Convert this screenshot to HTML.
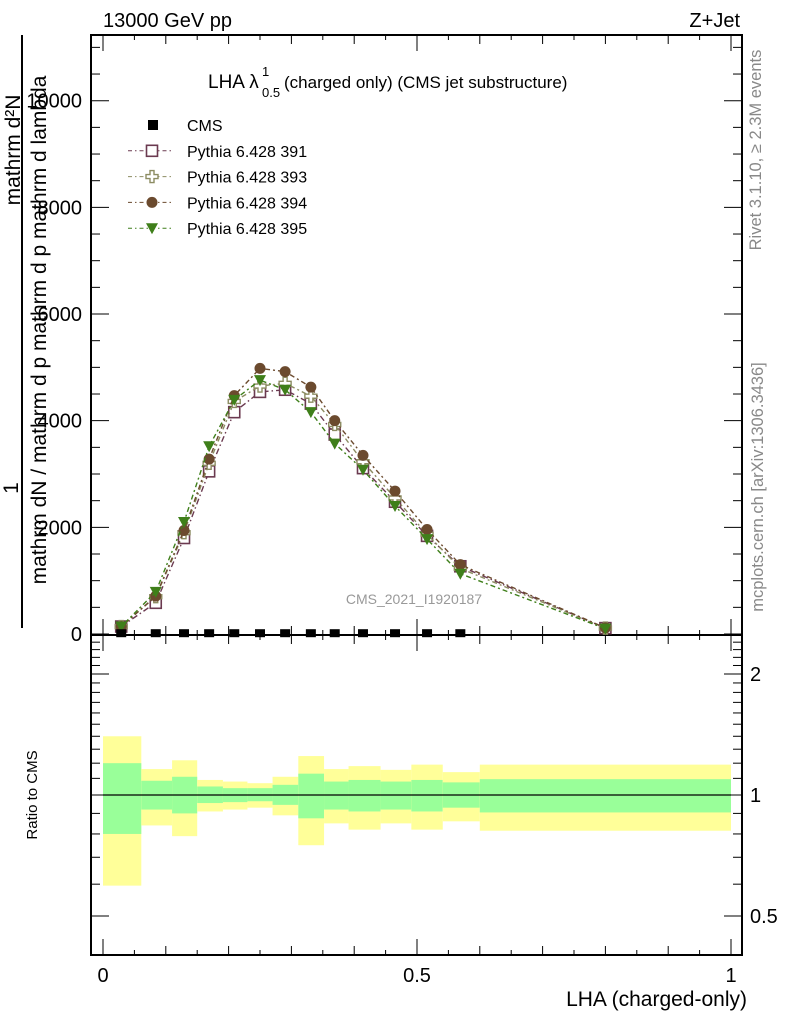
<!DOCTYPE html>
<html><head><meta charset="utf-8"><style>
body{margin:0;background:#fff;}
svg{display:block;font-family:"Liberation Sans",sans-serif;}
</style></head><body>
<svg id="c" width="786" height="1024" xmlns="http://www.w3.org/2000/svg"></svg>
<script>
const xs=[0.029,0.084,0.129,0.169,0.209,0.250,0.290,0.331,0.369,0.414,0.465,0.516,0.569,0.800];
const cmsVals=[15,15,15,15,15,15,15,15,15,15,15,15,15];
const s391=[140,585,1800,3050,4160,4540,4580,4320,3740,3110,2480,1840,1270,110];
const s393=[140,700,1900,3200,4360,4650,4700,4460,3930,3230,2550,1870,1230,110];
const s394=[140,710,1940,3280,4470,4980,4920,4630,4000,3350,2680,1960,1300,115];
const s395=[140,790,2100,3520,4390,4760,4580,4160,3570,3080,2400,1780,1130,100];
const edges=[0,0.061,0.110,0.150,0.191,0.230,0.270,0.311,0.352,0.391,0.442,0.491,0.541,0.600,1.0];
const yelHi=[1.40,1.16,1.22,1.09,1.08,1.07,1.11,1.25,1.16,1.18,1.155,1.19,1.14,1.19];
const yelLo=[0.595,0.84,0.79,0.91,0.92,0.93,0.89,0.75,0.85,0.82,0.85,0.82,0.86,0.815];
const grnHi=[1.20,1.085,1.11,1.05,1.04,1.04,1.06,1.13,1.08,1.09,1.08,1.09,1.075,1.095];
const grnLo=[0.80,0.92,0.90,0.955,0.96,0.965,0.945,0.875,0.92,0.91,0.92,0.91,0.93,0.905];
const yTicks=[0,2000,4000,6000,8000,10000];
const yTickLabels=["0","2000","4000","6000","8000","10000"];

const NS="http://www.w3.org/2000/svg";
const svg=document.getElementById('c');
function mk(t,a,p){const e=document.createElementNS(NS,t);for(const k in a)e.setAttribute(k,a[k]);(p||svg).appendChild(e);return e;}
const L=91,R=742,T=35,MB=635,RB=955;
const X=v=>103+v*628;
const Y=v=>634-v*0.05333;
const YR=v=>795-Math.log2(v)*121;

for(let i=0;i<edges.length-1;i++){
 let r=mk('rect',{x:X(edges[i]),y:YR(yelHi[i]),width:X(edges[i+1])-X(edges[i]),height:YR(yelLo[i])-YR(yelHi[i]),fill:'#ffff99'});
 
 
 let g=mk('rect',{x:X(edges[i]),y:YR(grnHi[i]),width:X(edges[i+1])-X(edges[i]),height:YR(grnLo[i])-YR(grnHi[i]),fill:'#99ff99'});
 
 
}
let ref=mk('line',{x1:X(0),x2:X(1),y1:YR(1),y2:YR(1),stroke:'#000','stroke-width':1.3});



let f1=mk('rect',{x:L,y:T,width:R-L,height:MB-T,fill:'none',stroke:'#000','stroke-width':2});


let f2=mk('rect',{x:L,y:MB,width:R-L,height:RB-MB,fill:'none',stroke:'#000','stroke-width':2});



for(let k=0;k<=20;k++){const v=k*0.05,x=X(v);const len=(k%10==0)?16:(k%2==0?9:5);
 for(const [top,bot] of [[T,MB],[MB,RB]]){
  mk('line',{x1:x,x2:x,y1:bot,y2:bot-len,stroke:'#000','stroke-width':1});
  mk('line',{x1:x,x2:x,y1:top,y2:top+len,stroke:'#000','stroke-width':1});
 }}
for(let v=0;v<=11000;v+=500){const y=Y(v);const len=(v%2000==0)?18:9;
 mk('line',{x1:L,x2:L+len,y1:y,y2:y,stroke:'#000'});mk('line',{x1:R,x2:R-len,y1:y,y2:y,stroke:'#000'});}
yTicks.forEach((v,i)=>{let t=mk('text',{x:82,y:Y(v)+7,'text-anchor':'end','font-size':20});t.textContent=yTickLabels[i];
 
 });
for(let k=4;k<=24;k++){const v=k/10;const y=YR(v);if(y<MB||y>RB)continue;const maj=(k==5||k==10||k==20);const len=maj?18:9;
 mk('line',{x1:L,x2:L+len,y1:y,y2:y,stroke:'#000'});mk('line',{x1:R,x2:R-len,y1:y,y2:y,stroke:'#000'});}
[[2,"2"],[1,"1"],[0.5,"0.5"]].forEach(([v,s])=>{let t=mk('text',{x:750,y:YR(v)+7,'font-size':20});t.textContent=s;
 
 });
[[0,"0"],[0.5,"0.5"],[1,"1"]].forEach(([v,s])=>{let t=mk('text',{x:X(v),y:982,'text-anchor':'middle','font-size':20});t.textContent=s;
 
 });

const series=[[s391,'#6b3a50','sq'],[s393,'#8c8c62','cross'],[s394,'#6b4a2e','circ'],[s395,'#3f7f1a','tri']];
function marker(kind,x,y,c,p){
 if(kind=='sq')return mk('rect',{x:x-5.5,y:y-5.5,width:11,height:11,fill:'#fff',stroke:c,'stroke-width':1.6},p);
 if(kind=='cross')return mk('path',{d:`M${x-2},${y-6}h4v4h4v4h-4v4h-4v-4h-4v-4h4z`,fill:'#fff',stroke:c,'stroke-width':1.4},p);
 if(kind=='circ')return mk('circle',{cx:x,cy:y,r:5.5,fill:c},p);
 return mk('path',{d:`M${x-6},${y-5}L${x+6},${y-5}L${x},${y+6}z`,fill:c},p);
}
series.forEach(([d,c,k],si)=>{
 const g=mk('g',{});
 
 
 mk('polyline',{points:xs.map((x,i)=>X(x)+','+Y(d[i])).join(' '),fill:'none',stroke:c,'stroke-width':1.4,'stroke-dasharray':si==0?'6,3,1.5,3':'2,3,5,3'},g);
 xs.forEach((x,i)=>marker(k,X(x),Y(d[i]),c,g));
});
const cg=mk('g',{});


cmsVals.forEach((v,i)=>mk('rect',{x:X(xs[i])-5,y:Y(v)-4,width:10,height:8,fill:'#000'},cg));

const names=['CMS','Pythia 6.428 391','Pythia 6.428 393','Pythia 6.428 394','Pythia 6.428 395'];
names.forEach((n,i)=>{const y=125+i*25.8;
 const g=mk('g',{});
 
 
 if(i==0)mk('rect',{x:148,y:y-5,width:10,height:10,fill:'#000'},g);
 else{const [d,c,k]=series[i-1];mk('line',{x1:128,x2:173,y1:y,y2:y,stroke:c,'stroke-dasharray':'4,3,1.5,3'},g);marker(k,152,y,c,g);}
 const t=mk('text',{x:187,y:y+6,'font-size':16},g);t.textContent=n;});

function txt(s,a,name){const t=mk('text',a);t.textContent=s;return t;}
txt('13000 GeV pp',{x:103,y:27,'font-size':20},'header-energy');
txt('Z+Jet',{x:740,y:27,'font-size':20,'text-anchor':'end'},'header-process');
txt('LHA λ',{x:208,y:88,'font-size':19},'plot-title');
txt('1',{x:262,y:76,'font-size':13},'plot-title-superscript');
txt('0.5',{x:262,y:97,'font-size':13},'plot-title-subscript');
txt('(charged only) (CMS jet substructure)',{x:284,y:88,'font-size':17},'plot-title-rest');
txt('CMS_2021_I1920187',{x:414,y:604,'font-size':14,fill:'#999','text-anchor':'middle'},'analysis-id');
txt('LHA (charged-only)',{x:747,y:1006,'font-size':21,'text-anchor':'end'},'x-axis-title');
txt('Ratio to CMS',{x:0,y:0,'font-size':15,'text-anchor':'middle',transform:'translate(37,795) rotate(-90)'},'ratio-axis-title');
txt('Rivet 3.1.10, ≥ 2.3M events',{x:0,y:0,'font-size':16.5,fill:'#888','text-anchor':'middle',transform:'translate(761,150) rotate(-90)'},'rivet-label');
txt('mcplots.cern.ch [arXiv:1306.3436]',{x:0,y:0,'font-size':16.5,fill:'#888','text-anchor':'middle',transform:'translate(763,487) rotate(-90)'},'mcplots-label');
mk('line',{x1:22,x2:22,y1:35,y2:628,stroke:'#000','stroke-width':2});
txt('mathrm d²N',{x:0,y:0,'font-size':21,'text-anchor':'middle',transform:'translate(20,150) rotate(-90)'},'y-title-numerator');
txt('1',{x:0,y:0,'font-size':21,'text-anchor':'middle',transform:'translate(18,488) rotate(-90)'},'y-title-one');
txt('mathrm dN / mathrm d p  mathrm d p   mathrm d lambda',{x:0,y:0,'font-size':21,'text-anchor':'middle',transform:'translate(46,330) rotate(-90)'},'y-title-denominator');
</script>
</body></html>
